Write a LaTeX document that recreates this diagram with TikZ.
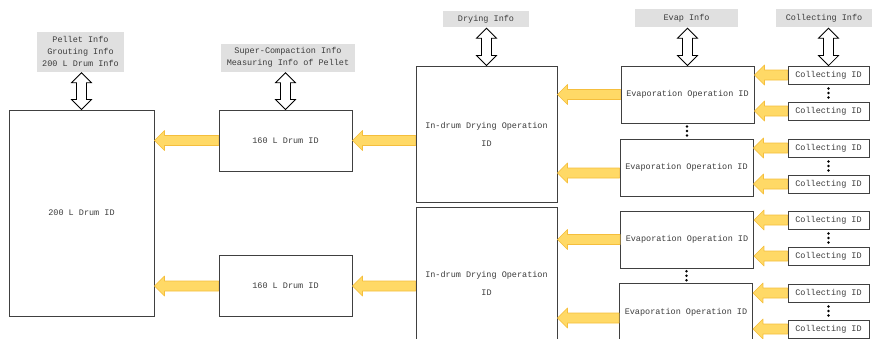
\documentclass[tikz,border=0pt]{standalone}
\usepackage{fontspec}
\setmainfont{Liberation Mono}
\usetikzlibrary{calc}

\definecolor{idline}{HTML}{404040}
\definecolor{idtext}{HTML}{3C3C3C}
\definecolor{infogray}{HTML}{E0E0E0}
\definecolor{feedfill}{HTML}{FFD966}
\definecolor{feedline}{HTML}{F5BE3C}

\tikzstyle{idbox}=[draw=idline,line width=0.9pt,fill=white,text=idtext,inner sep=0pt,align=center,font=\fontsize{8.5}{12}\selectfont]
\tikzstyle{info}=[fill=infogray,text=idtext,inner sep=0pt,align=center,font=\fontsize{8.5}{12}\selectfont]
\tikzstyle{feed}=[draw=feedline,fill=feedfill,line width=0.6pt,line join=round]
\tikzstyle{twoway}=[draw=black,fill=white,line width=0.8pt]

% fat arrow from #1 pointing left, tip at the x of #2
\newcommand{\feed}[2]{%
  \path[feed] let \p1=#1, \p2=#2 in
    (\x1,\y1+5pt) -- (\x2+10pt,\y1+5pt) -- (\x2+10pt,\y1+10pt) -- (\x2,\y1)
    -- (\x2+10pt,\y1-10pt) -- (\x2+10pt,\y1-5pt) -- (\x1,\y1-5pt) -- cycle;}
% hollow double arrow from #1 down to #2
\newcommand{\twoway}[2]{%
  \path[twoway] let \p1=#1, \p2=#2 in
    (\x2,\y1) -- (\x2+10pt,\y1-10pt) -- (\x2+5pt,\y1-10pt) -- (\x2+5pt,\y2+10pt)
    -- (\x2+10pt,\y2+10pt) -- (\x2,\y2) -- (\x2-10pt,\y2+10pt) -- (\x2-5pt,\y2+10pt)
    -- (\x2-5pt,\y1-10pt) -- (\x2-10pt,\y1-10pt) -- cycle;}
% three dots halfway between #1 and #2
\newcommand{\vdotsbetween}[2]{%
  \foreach \d in {-4.5,0,4.5}
    \fill ($(#1.south)!0.5!(#2.north)+(0,\d)$) circle (1.4pt);}

\begin{document}
\begin{tikzpicture}[x=1pt,y=-1pt]
    \useasboundingbox (0,0) rectangle (872,338);
    \clip (0,0) rectangle (872,338);

    % id boxes
    \node[idbox,minimum width=145pt,minimum height=206pt] (drum) at (81.5,213) {200 L Drum ID};
    \foreach \pos/\name in {{(285.5,140.5)/cpA}, {(285.5,286)/cpB}}
        \node[idbox,minimum width=133pt,minimum height=61pt] (\name) at \pos {160 L Drum ID};
    \node[idbox,minimum width=141pt,minimum height=136pt] (dryA) at (486.5,134) {In-drum Drying Operation\\[6pt]ID};
    \node[idbox,minimum width=141pt,minimum height=153pt] (dryB) at (486.5,283.5) {In-drum Drying Operation\\[6pt]ID};
    \foreach \pos/\name in {{(687.5,94.5)/evA}, {(686.5,167.5)/evB},
                            {(687,239.5)/evC}, {(686,312)/evD}}
        \node[idbox,minimum width=133pt,minimum height=57pt] (\name) at \pos {Evaporation Operation ID};
    \foreach \y/\name in {75/clA, 111/clB, 148/clC, 184/clD, 220/clE, 256/clF, 293/clG, 329/clH}
        \node[idbox,minimum width=81pt,minimum height=18pt] (\name) at (828.5,\y) {Collecting ID};

    % info labels
    \node[info,minimum width=87pt,minimum height=40pt] (drumInfo) at (80.5,51.5) {Pellet Info\\Grouting Info\\200 L Drum Info};
    \node[info,minimum width=134pt,minimum height=28pt] (cpInfo) at (288,57.5) {Super-Compaction Info\\Measuring Info of Pellet};
    \node[info,minimum width=86pt,minimum height=16pt] (dryInfo) at (486,19) {Drying Info};
    \node[info,minimum width=103pt,minimum height=18pt] (evInfo) at (686.5,18) {Evap Info};
    \node[info,minimum width=96pt,minimum height=18pt] (clInfo) at (824,18) {Collecting Info};

    \foreach \source/\dest in {drumInfo/drum, cpInfo/cpA, dryInfo/dryA, evInfo/evA, clInfo/clA}
        \twoway{($(\source.south)+(0,1)$)}{(\dest.north)};

    % flow of ids
    \foreach \source/\dest in {cpA/drum, cpB/drum, evA/dryA, evC/dryB,
                               clA/evA, clB/evA, clC/evB, clD/evB,
                               clE/evC, clF/evC, clG/evD, clH/evD}
        \feed{(\source.west)}{(\dest.east)};
    \feed{(dryA.west |- cpA.east)}{(cpA.east)}
    \feed{(dryB.west |- cpB.east)}{(cpB.east)}
    \feed{($(evB.west)+(0,5.5)$)}{(dryA.east)}
    \feed{($(evD.west)+(0,6)$)}{(dryB.east)}

    \vdotsbetween{clA}{clB}
    \vdotsbetween{clC}{clD}
    \vdotsbetween{clE}{clF}
    \vdotsbetween{clG}{clH}
    \vdotsbetween{evA}{evB}
    \vdotsbetween{evC}{evD}
\end{tikzpicture}
\end{document}
